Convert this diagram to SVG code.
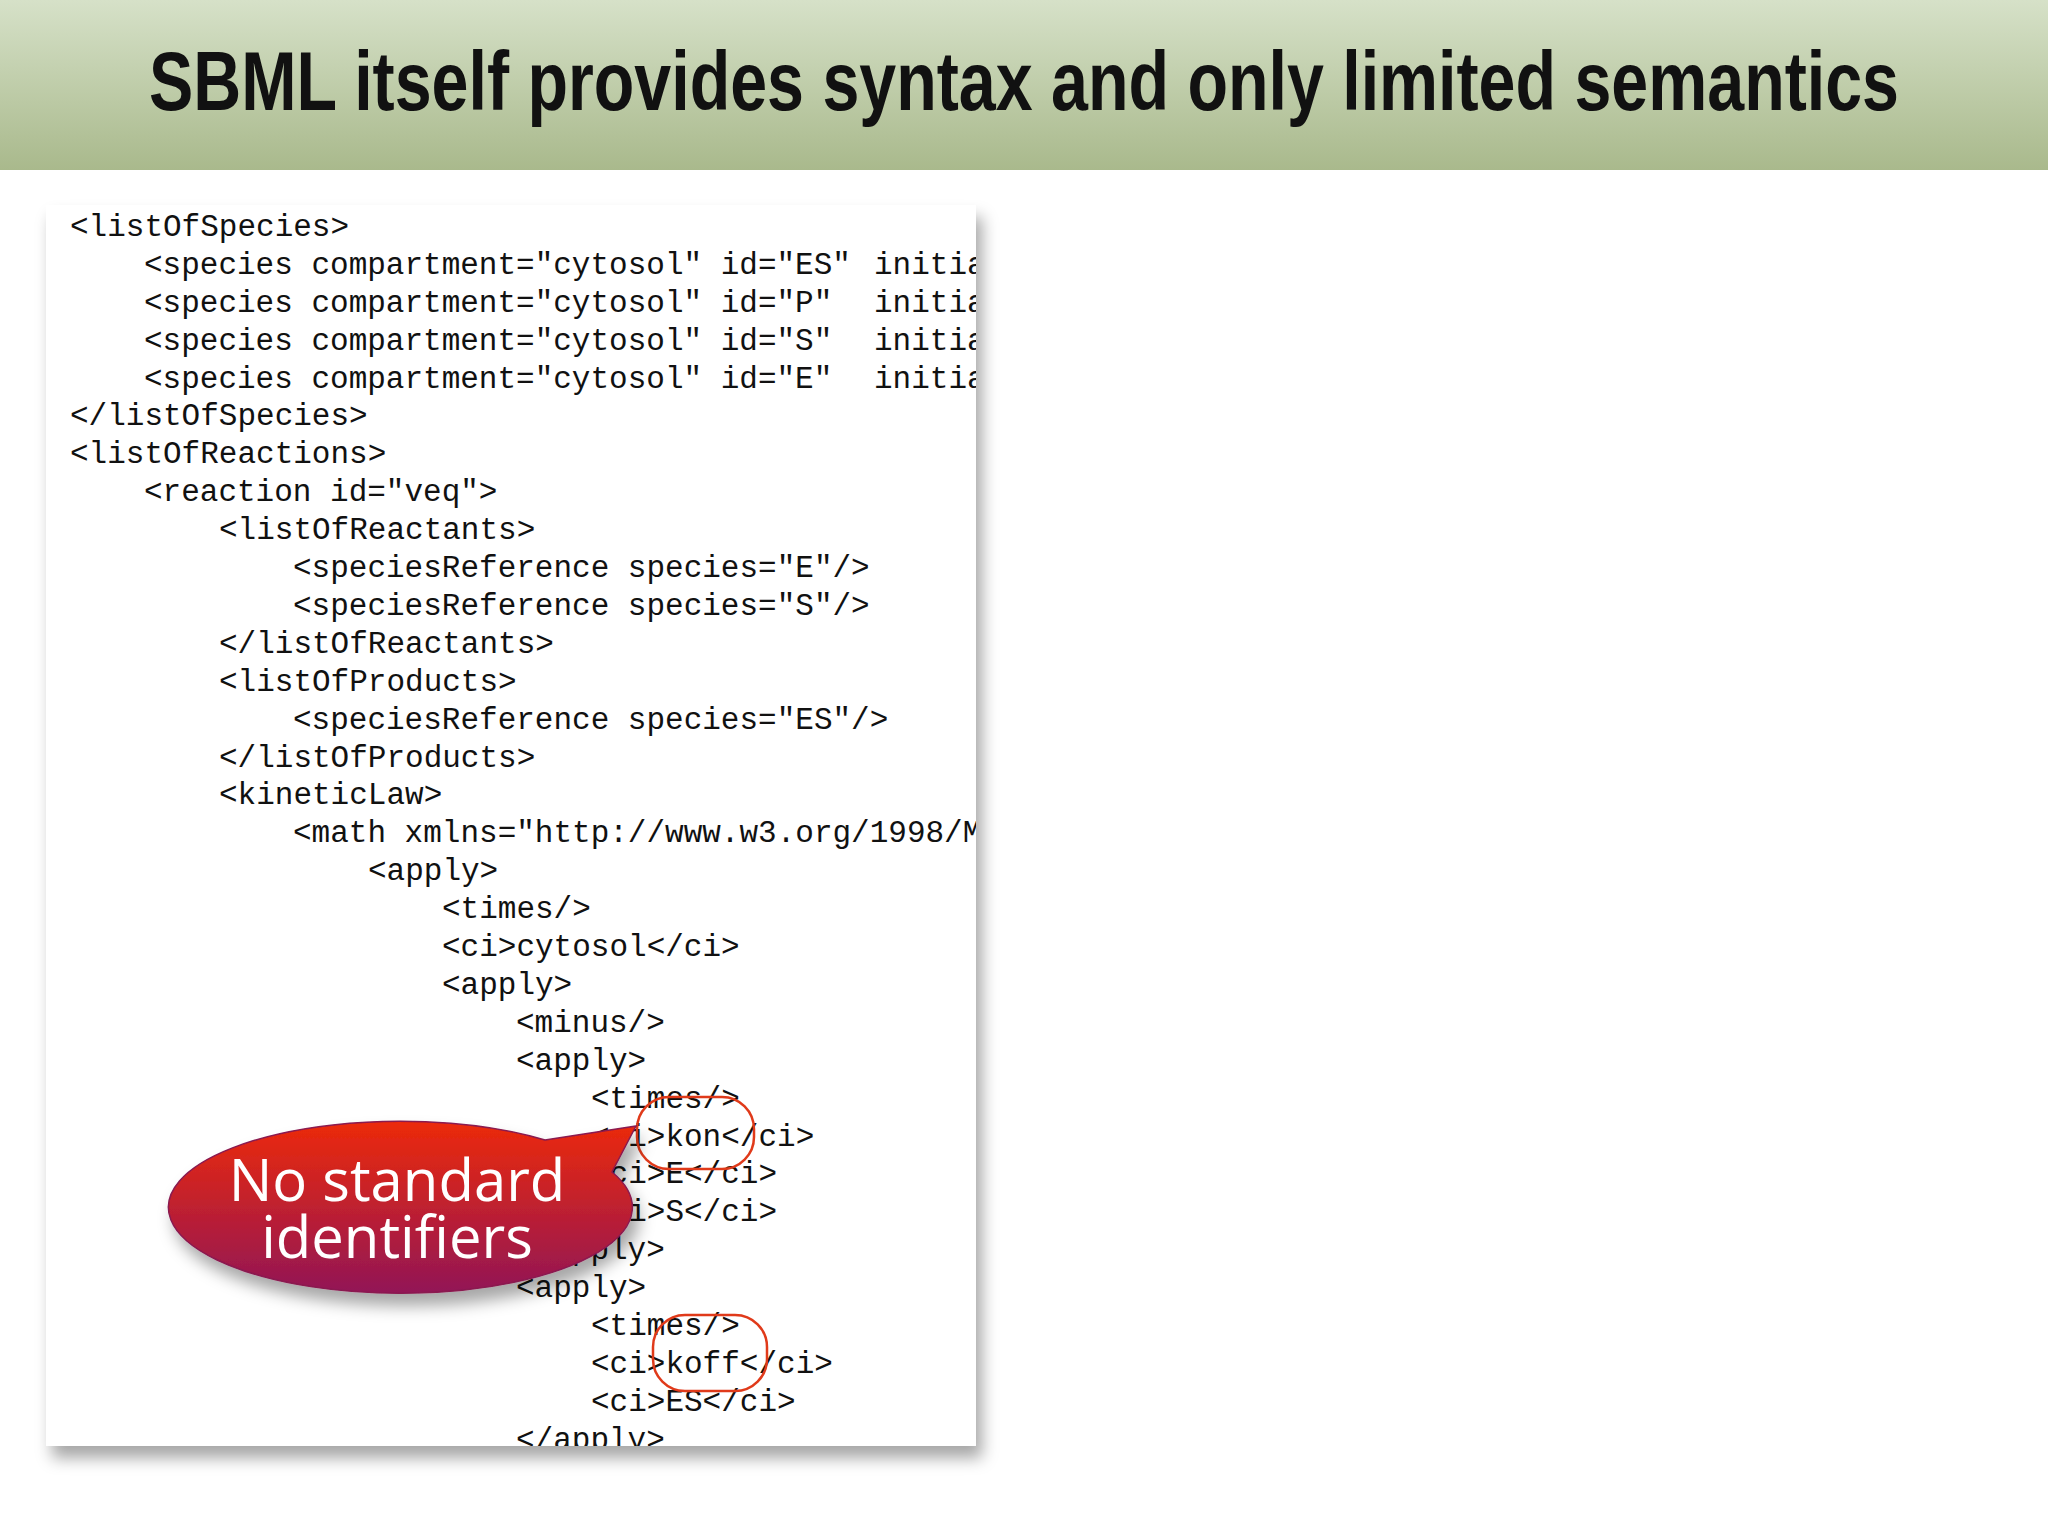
<svg xmlns="http://www.w3.org/2000/svg" width="2048" height="1536" viewBox="0 0 2048 1536">
<defs>
<linearGradient id="hdr" x1="0" y1="0" x2="0" y2="1"><stop offset="0" stop-color="#d6e1c8"/><stop offset="1" stop-color="#a9b98c"/></linearGradient>
<linearGradient id="bub" x1="0" y1="0" x2="0" y2="1"><stop offset="0" stop-color="#ec2a0a"/><stop offset="1" stop-color="#921656"/></linearGradient>
<filter id="sh" x="-10%" y="-10%" width="130%" height="130%"><feDropShadow dx="6" dy="12" stdDeviation="8" flood-color="#000" flood-opacity="0.35"/></filter>
<clipPath id="pc"><rect x="46" y="205" width="930" height="1241"/></clipPath>
<style>
.code{font-family:"Liberation Mono","DejaVu Sans Mono",monospace;font-size:31px;fill:#111}
.ring{fill:none;stroke:#e03a1a;stroke-width:2.5}
</style>
</defs>
<rect width="2048" height="1536" fill="#fff"/>
<g id="header"><rect x="0" y="0" width="2048" height="170" fill="url(#hdr)"/>
<text x="1024" y="110" text-anchor="middle" font-family="Liberation Sans, Arial, sans-serif" font-weight="bold" font-size="84" textLength="1750" lengthAdjust="spacingAndGlyphs" fill="#111">SBML itself provides syntax and only limited semantics</text></g>
<g id="panel">
<rect x="46" y="205" width="930" height="1241" fill="#fff" filter="url(#sh)"/>
<g clip-path="url(#pc)" class="code">
<text x="70" y="236">&lt;listOfSpecies&gt;</text>
<text x="144" y="274">&lt;species compartment="cytosol" id="ES" <tspan x="874">initialAmount="0"/&gt;</tspan></text>
<text x="144" y="312">&lt;species compartment="cytosol" id="P" <tspan x="874">initialAmount="0"/&gt;</tspan></text>
<text x="144" y="350">&lt;species compartment="cytosol" id="S" <tspan x="874">initialAmount="0"/&gt;</tspan></text>
<text x="144" y="388">&lt;species compartment="cytosol" id="E" <tspan x="874">initialAmount="0"/&gt;</tspan></text>
<text x="70" y="425">&lt;/listOfSpecies&gt;</text>
<text x="70" y="463">&lt;listOfReactions&gt;</text>
<text x="144" y="501">&lt;reaction id="veq"&gt;</text>
<text x="219" y="539">&lt;listOfReactants&gt;</text>
<text x="293" y="577">&lt;speciesReference species="E"/&gt;</text>
<text x="293" y="615">&lt;speciesReference species="S"/&gt;</text>
<text x="219" y="653">&lt;/listOfReactants&gt;</text>
<text x="219" y="691">&lt;listOfProducts&gt;</text>
<text x="293" y="729">&lt;speciesReference species="ES"/&gt;</text>
<text x="219" y="767">&lt;/listOfProducts&gt;</text>
<text x="219" y="804">&lt;kineticLaw&gt;</text>
<text x="293" y="842">&lt;math xmlns="http://www.w3.org/1998/Math/MathML"&gt;</text>
<text x="368" y="880">&lt;apply&gt;</text>
<text x="442" y="918">&lt;times/&gt;</text>
<text x="442" y="956">&lt;ci&gt;cytosol&lt;/ci&gt;</text>
<text x="442" y="994">&lt;apply&gt;</text>
<text x="516" y="1032">&lt;minus/&gt;</text>
<text x="516" y="1070">&lt;apply&gt;</text>
<text x="591" y="1108">&lt;times/&gt;</text>
<text x="591" y="1146">&lt;ci&gt;kon&lt;/ci&gt;</text>
<text x="591" y="1183">&lt;ci&gt;E&lt;/ci&gt;</text>
<text x="591" y="1221">&lt;ci&gt;S&lt;/ci&gt;</text>
<text x="516" y="1259">&lt;/apply&gt;</text>
<text x="516" y="1297">&lt;apply&gt;</text>
<text x="591" y="1335">&lt;times/&gt;</text>
<text x="591" y="1373">&lt;ci&gt;koff&lt;/ci&gt;</text>
<text x="591" y="1411">&lt;ci&gt;ES&lt;/ci&gt;</text>
<text x="516" y="1449">&lt;/apply&gt;</text>
</g>
</g>
<g id="rings">
<rect class="ring" x="637" y="1097" width="117" height="72" rx="32"/>
<rect class="ring" x="653" y="1315" width="114" height="76" rx="32"/>
</g>
<g id="callout" filter="url(#sh)">
<path d="M 545 1140 L 636 1126 L 612 1172 A 232 86 0 1 1 545 1140 Z" fill="url(#bub)" stroke="#8a1a50" stroke-width="1.5"/>
<text x="397" y="1201" text-anchor="middle" font-family="Open Sans, Liberation Sans, sans-serif" font-size="58" fill="#fff">No standard</text>
<text x="397" y="1258" text-anchor="middle" font-family="Open Sans, Liberation Sans, sans-serif" font-size="58" fill="#fff">identifiers</text>
</g>
</svg>
